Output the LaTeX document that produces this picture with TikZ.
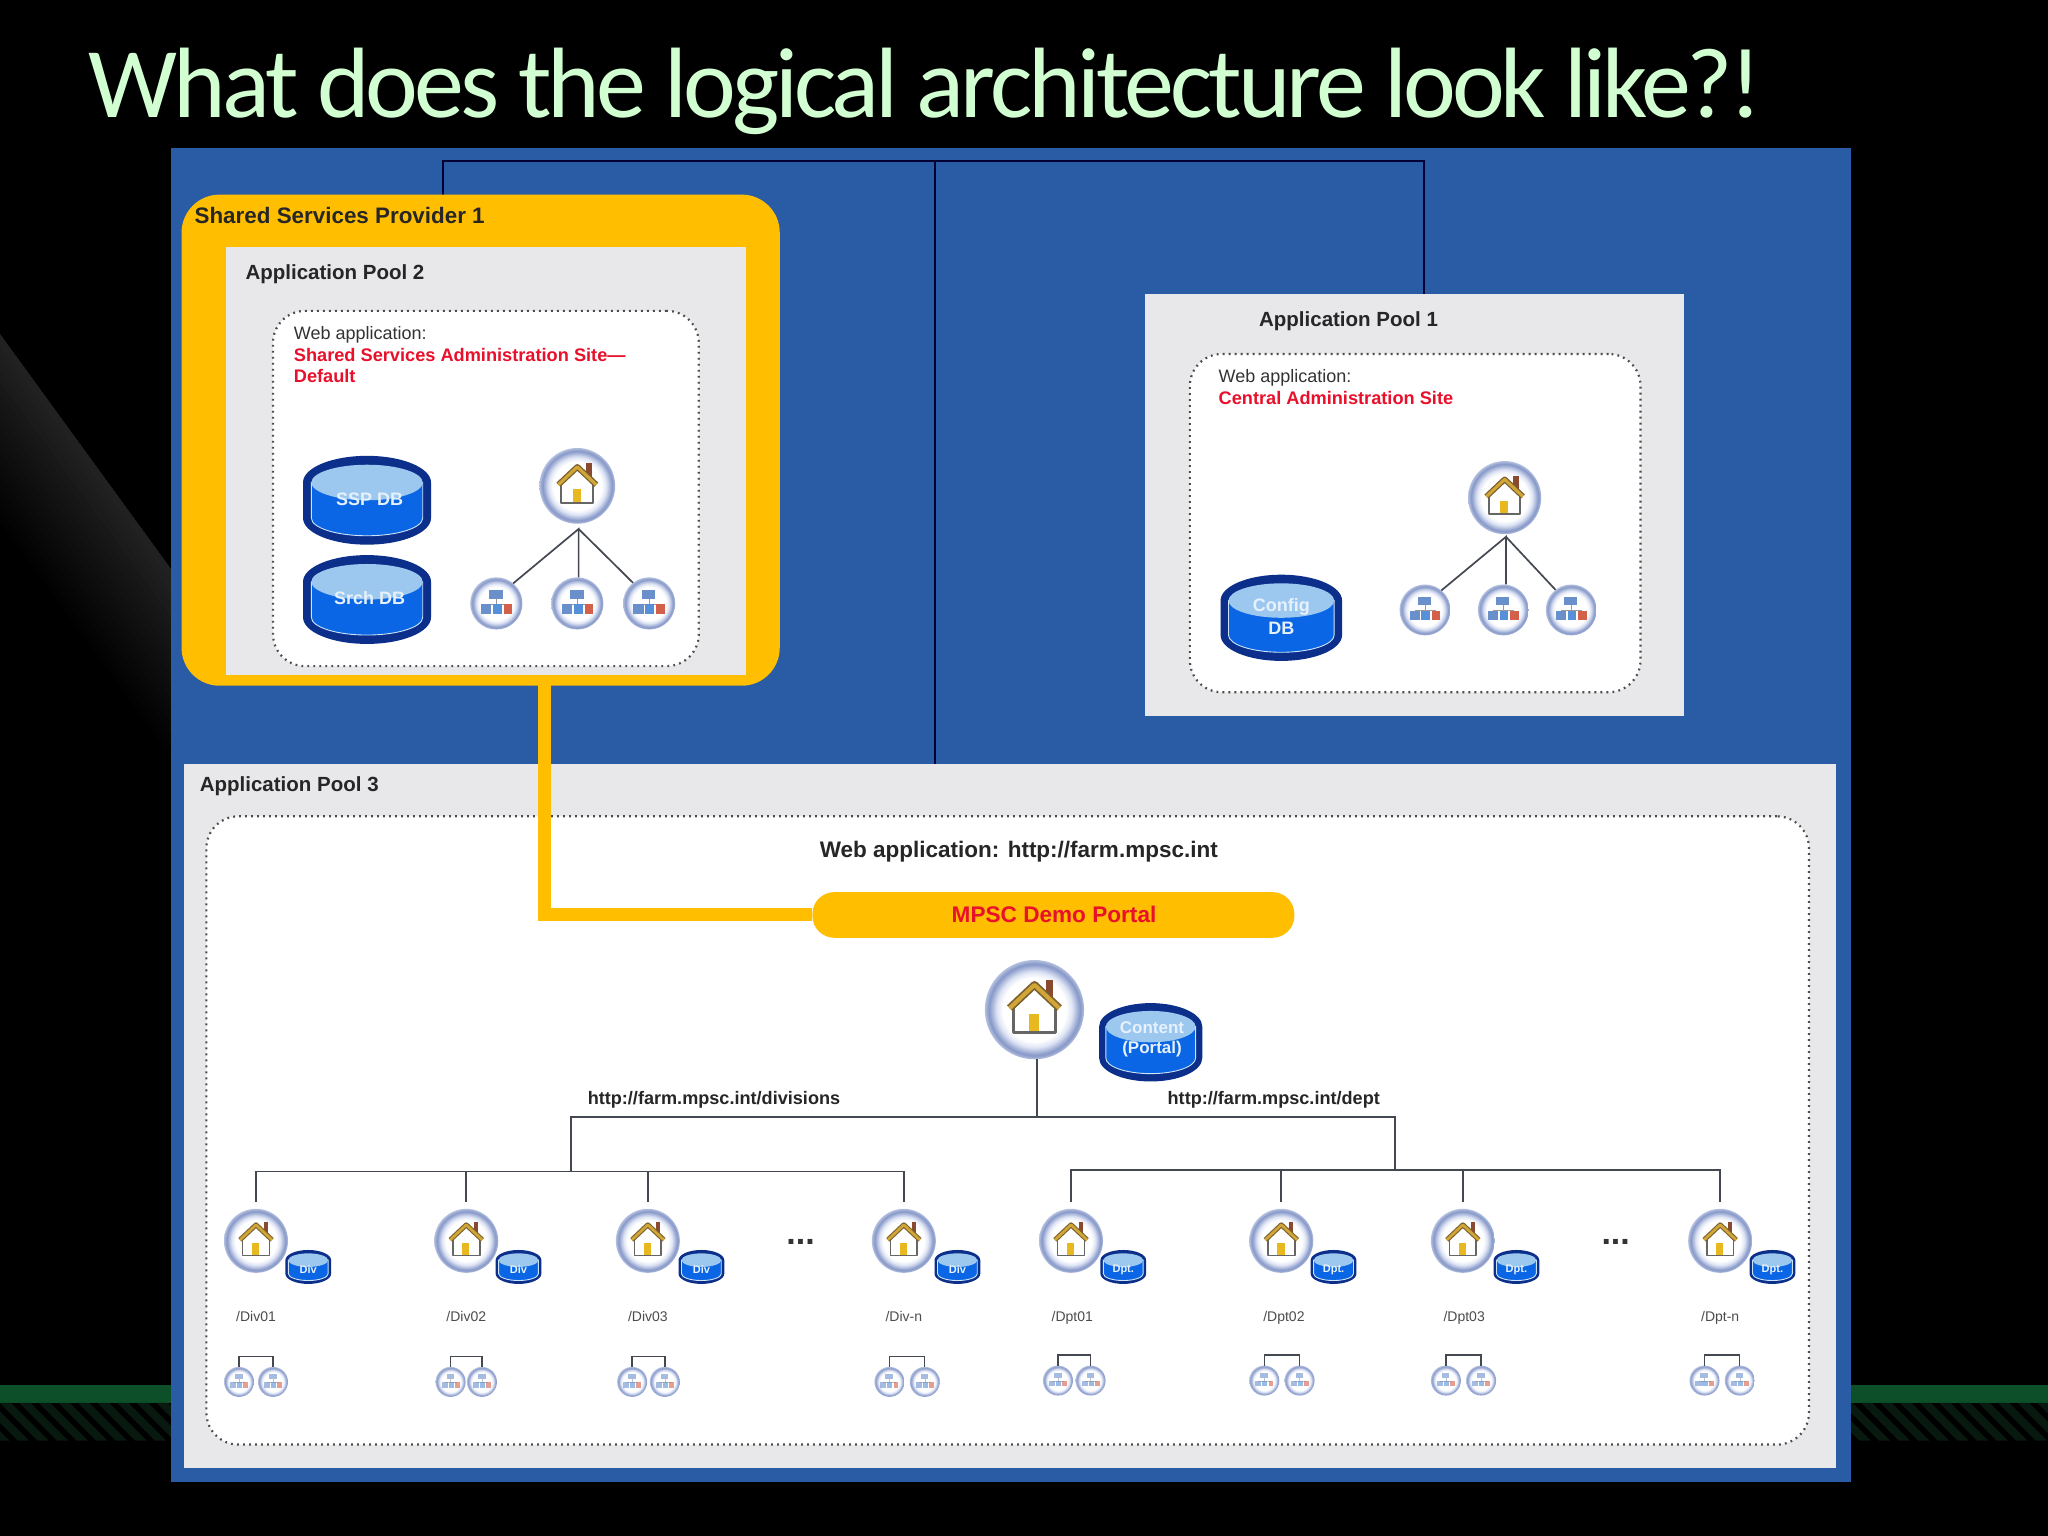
\documentclass[tikz,border=0pt]{standalone}
\usepackage{fontspec}
\setmainfont{Liberation Sans}
\newfontfamily\titlefont[LetterSpace=-4]{Carlito}
\usetikzlibrary{fit}
\newcommand{\fs}[1]{\fontsize{#1}{#1}\selectfont}
\definecolor{panelblue}{HTML}{2A5CA6}
\definecolor{ssporange}{HTML}{FFBE00}
\definecolor{poolgray}{HTML}{E8E8EB}
\definecolor{reddish}{HTML}{E8102A}
\definecolor{navy}{HTML}{0B2F8A}
\definecolor{dbbody}{HTML}{0A66E4}
\definecolor{dbtop}{HTML}{9CC8F0}
\definecolor{ringblue}{HTML}{8597C8}
\definecolor{ringpale}{HTML}{DFE5F5}
\definecolor{ringedge}{HTML}{B4C0DE}
\definecolor{linegray}{HTML}{444850}
\definecolor{bandgreen}{HTML}{0C4F28}
\definecolor{hatchgreen}{HTML}{081A10}
\definecolor{roofgold}{HTML}{D2A636}
\definecolor{roofdark}{HTML}{7A6030}
\definecolor{chimney}{HTML}{8A4A30}
\definecolor{doorgold}{HTML}{E8B820}
\definecolor{siteblue}{HTML}{6A90CC}
\definecolor{sitemid}{HTML}{5590D8}
\definecolor{sitered}{HTML}{D2604A}
\pgfdeclareradialshading{iconring}{\pgfpoint{0bp}{0bp}}{color(0bp)=(white);color(16bp)=(white);color(19bp)=(ringpale);color(23bp)=(ringblue);color(25bp)=(ringedge);color(50bp)=(ringedge)}
\newlength{\U}\setlength{\U}{1.30612pt}
\tikzset{
  x=1.30612pt,y=-1.30612pt,
  every node/.style={inner sep=0pt,outer sep=0pt},
  poolbox/.style={fill=poolgray,inner sep=0pt},
  dotbox/.style={fill=white,draw=black!70,line width=2.2pt,dash pattern=on 1.8pt off 4.2pt,rounded corners=32pt,inner sep=0pt},
  hd/.style={anchor=west,font=\fs{20.5}\bfseries,text=black!85},
  sub/.style={anchor=west,font=\fs{18},text=black!80},
  redt/.style={anchor=west,font=\fs{18.2}\bfseries,text=reddish},
  urlt/.style={anchor=west,font=\fs{18.1}\bfseries,text=black!85},
  dbt/.style={font=\fs{18}\bfseries,text=white!75!dbtop},
  pathlbl/.style={anchor=base,font=\fs{14},text=black!70},
  conn/.style={draw=linegray,line width=1.7pt},
  topline/.style={draw=black!80!blue,line width=1.7pt},
  ring/.style={circle,shading=iconring,minimum size=#1},
  hatchl/.style={draw=hatchgreen,line width=8pt},
  siteglyph/.style={},
}
% home icon: name, x, y, radius (reference 1568 units)
\newcommand{\homeicon}[4]{%
  \node[ring=#4*2*\U] (#1) at (#2,#3) {};
  \begin{scope}[shift={(#2,#3)},x=#4*\U,y=#4*\U,line join=round]
    \fill[chimney] (.24,.6) rectangle (.38,.2);
    \fill[white] (-.44,.05) -- (0,.5) -- (.44,.05) -- (.44,-.46) -- (-.44,-.46) -- cycle;
    \fill[doorgold] (-.12,-.46) rectangle (.1,-.08);
    \draw[black!60,line width=#4*.07pt] (-.42,.05) -- (-.42,-.46) -- (.42,-.46) -- (.42,.05);
    \draw[roofdark,line width=#4*.2pt] (-.5,.03) -- (0,.5) -- (.5,.03);
    \draw[roofgold,line width=#4*.11pt] (-.5,.03) -- (0,.5) -- (.5,.03);
  \end{scope}}
% site icon: name, x, y, radius
\newcommand{\siteicon}[4]{%
  \node[ring=#4*2*\U] (#1) at (#2,#3) {};
  \begin{scope}[shift={(#2,#3)},x=#4*\U,y=#4*\U,siteglyph]
    \draw[black!40,line width=#4*.04pt] (0,.18) -- (0,-.03) (-.4,-.03) -- (.42,-.03);
    \fill[siteblue] (-.27,.52) rectangle (.24,.18);
    \fill[siteblue] (-.6,-.03) rectangle (-.2,-.39);
    \fill[sitemid] (-.14,-.03) rectangle (.2,-.39);
    \fill[sitered] (.28,-.03) rectangle (.6,-.39);
  \end{scope}}
% database icon: name, x, y, width, height
\newcommand{\dbicon}[5]{%
  \node[minimum width=#4*\U,minimum height=#5*\U] (#1) at (#2,#3) {};
  \begin{scope}[shift={(#2,#3)},x=\U,y=\U]
    \pgfmathsetmacro{\da}{#4/2}\pgfmathsetmacro{\de}{#5*.3}\pgfmathsetmacro{\dh}{#5/2}
    \pgfmathsetmacro{\dm}{\da*.87}\pgfmathsetmacro{\df}{#5*.2}
    \pgfmathsetmacro{\dt}{\dh-\de}
    \fill[navy] (-\da,\dt) arc[start angle=180,end angle=0,x radius=\da,y radius=\de] -- (\da,-\dt) arc[start angle=0,end angle=-180,x radius=\da,y radius=\de] -- cycle;
    \filldraw[fill=dbbody,draw=dbtop!50!white,line width=.9pt] (-\dm,\dt) -- (-\dm,-\dt) arc[start angle=180,end angle=360,x radius=\dm,y radius=\df] -- (\dm,\dt) -- cycle;
    \fill[dbtop] (0,\dt) ellipse[x radius=\dm,y radius=\df];
  \end{scope}}
\begin{document}
\begin{tikzpicture}
\useasboundingbox (0,0) rectangle (1568,1176);
\fill[black] (0,0) rectangle (1568,1176);
% slide background
\foreach \k in {16,15,...,1}{
  \pgfmathsetmacro{\gr}{100-(17-\k)*0.8}
  \pgfmathsetmacro{\dk}{\k*9}
  \fill[black!\gr] (0,256) -- (131,436) -- (131,436+\dk) -- (0,256+\dk) -- cycle;
}
\fill[bandgreen] (0,1060) rectangle (131,1074);
\fill[bandgreen] (1417,1060) rectangle (1568,1074);
\begin{scope}
  \clip (0,1074) rectangle (131,1103) (1417,1074) rectangle (1568,1103);
  \foreach \k in {-4,...,110} {\draw[hatchl] (\k*15,1070) -- ++(36,36);}
\end{scope}
\node[anchor=base west,font=\titlefont\fs{100},text=green!18!white] (title) at (68,90) {What does the logical architecture look like?!};
% main panel
\node[fit={(131,113)(1417,1135)},fill=panelblue] (panel) {};
% top connectors
\coordinate (tl) at (339,123);\coordinate (tm) at (716,123);\coordinate (tr) at (1090,123);
\coordinate (sspin) at (339,150);\coordinate (app3in) at (716,585);
\draw[topline] (sspin) |- (tr) -- (1090,225);
\draw[topline] (tm) -- (app3in);
% SSP box
\node[fit={(139,149)(597,525)},fill=ssporange,rounded corners=38pt] (ssp) {};
\node[hd,font=\fs{22.4}\bfseries] (ssplbl) at (149,165) {Shared Services Provider 1};
\node[fit={(173,189)(571,517)},poolbox] (pool2) {};
\node[hd] (pool2lbl) at (188,210) {Application Pool 2};
\node[fit={(209,238)(535,510)},dotbox] (web2) {};
\node[sub] (web2a) at (225,256) {Web application:};
\node[redt] (web2b) at (225,272) {Shared Services Administration Site—};
\node[redt] (web2c) at (225,288) {Default};
\dbicon{ssp db}{281}{383}{98}{68}
\node[dbt] (sspdbt) at (283,382) {SSP DB};
\dbicon{srch db}{281}{459}{98}{68}
\node[dbt] (srchdbt) at (283,458) {Srch DB};
\homeicon{h2}{442}{372}{29}
\siteicon{s2a}{380}{462}{20}
\siteicon{s2b}{442}{462}{20}
\siteicon{s2c}{497}{462}{20}
\coordinate (ap2) at (443,405);
\draw[conn] (s2a.50) -- (ap2) -- (ap2 |- s2b.north);
\draw[conn] (ap2) -- (s2c.128);
% Pool 1
\node[fit={(877,225)(1289,548)},poolbox] (pool1) {};
\node[hd] (pool1lbl) at (964,246) {Application Pool 1};
\node[fit={(911,271)(1256,530)},dotbox] (web1) {};
\node[sub] (web1a) at (933,289) {Web application:};
\node[redt] (web1b) at (933,305) {Central Administration Site};
\dbicon{cfg db}{981}{473}{93}{66}
\node[dbt] (cfg1) at (981,465) {Config};
\node[dbt] (cfg2) at (981,481) {DB};
\homeicon{h1}{1152}{381}{28}
\siteicon{s1a}{1091}{467}{19.5}
\siteicon{s1b}{1151}{467}{19.5}
\siteicon{s1c}{1203}{467}{19.5}
\coordinate (ap1) at (1153,411);
\draw[conn] (s1a.50) -- (ap1) -- (ap1 |- s1b.north);
\draw[conn] (ap1) -- (s1c.128);
% Pool 3
\node[fit={(141,585)(1406,1124)},poolbox] (pool3) {};
\node[hd] (pool3lbl) at (153,602) {Application Pool 3};
\node[fit={(158,625)(1385,1106)},dotbox] (web3) {};
\node[anchor=center,font=\fs{22.5}\bfseries,text=black!85] (web3lbl) at (780,652) {Web application: http://farm.mpsc.int};
\node[fit={(622,683)(991,718)},fill=ssporange,rounded corners=22pt] (portal) {};
\node[font=\fs{22.6}\bfseries,text=reddish] (portallbl) at (807,700) {MPSC Demo Portal};
\coordinate (sspout) at (417,522);
\draw[draw=ssporange,line width=13pt] (sspout) |- (portal.west);
\homeicon{hp}{792}{773}{38}
\dbicon{content db}{881}{798}{79}{60}
\node[dbt,font=\fs{17}\bfseries] (ct1) at (882,787) {Content};
\node[dbt,font=\fs{17}\bfseries] (ct2) at (882,803) {(Portal)};
\node[urlt] (urll) at (450,842) {http://farm.mpsc.int/divisions};
\node[urlt] (urlr) at (894,842) {http://farm.mpsc.int/dept};
\coordinate (jc) at (794,855);\coordinate (jl) at (437,855);\coordinate (jr) at (1068,855);
\coordinate (bl) at (437,897);\coordinate (br) at (1068,896);
\draw[conn] (hp.south -| jc) -- (jc);
\draw[conn] (bl) |- (jr) -- (br);
\node[font=\fs{34}\bfseries,text=black!80] (dotsl) at (613,951) {...};
\node[font=\fs{34}\bfseries,text=black!80] (dotsr) at (1237,951) {...};
\foreach \n/\hx/\dbx/\lx/\ltxt/\dbtxt/\sa/\sb/\sy/\bus in {
 a/196/236/196/{/Div01}/Div/183/209/1058/bl,
 b/357/397/357/{/Div02}/Div/345/369/1058/bl,
 c/496/537/496/{/Div03}/Div/484/509/1058/bl,
 d/692/733/692/{/Div-n}/Div/681/708/1058/bl,
 e/820/860/821/{/Dpt01}/Dpt./810/835/1057/br,
 f/981/1021/983/{/Dpt02}/Dpt./968/995/1057/br,
 g/1120/1161/1121/{/Dpt03}/Dpt./1107/1134/1057/br,
 h/1317/1357/1317/{/Dpt-n}/Dpt./1305/1332/1057/br}{
  \tikzset{siteglyph/.style={opacity=.6}}
  \homeicon{hd\n}{\hx}{950}{24.5}
  \dbicon{db\n}{\dbx}{970}{35}{26}
  \node[font=\fs{11}\bfseries,text=white!75!dbtop] (dbt\n) at (\dbx,972) {\dbtxt};
  \node[pathlbl] (lab\n) at (\lx,1012) {\ltxt};
  \siteicon{sa\n}{\sa}{\sy}{11.5}
  \siteicon{sb\n}{\sb}{\sy}{11.5}
  \draw[conn,line width=1.4pt] (sa\n.north) -- ++(0,-8) -| (sb\n.north);
  \draw[conn,shorten <=7pt] (hd\n.north) |- (\bus);
}
\end{tikzpicture}
\end{document}
